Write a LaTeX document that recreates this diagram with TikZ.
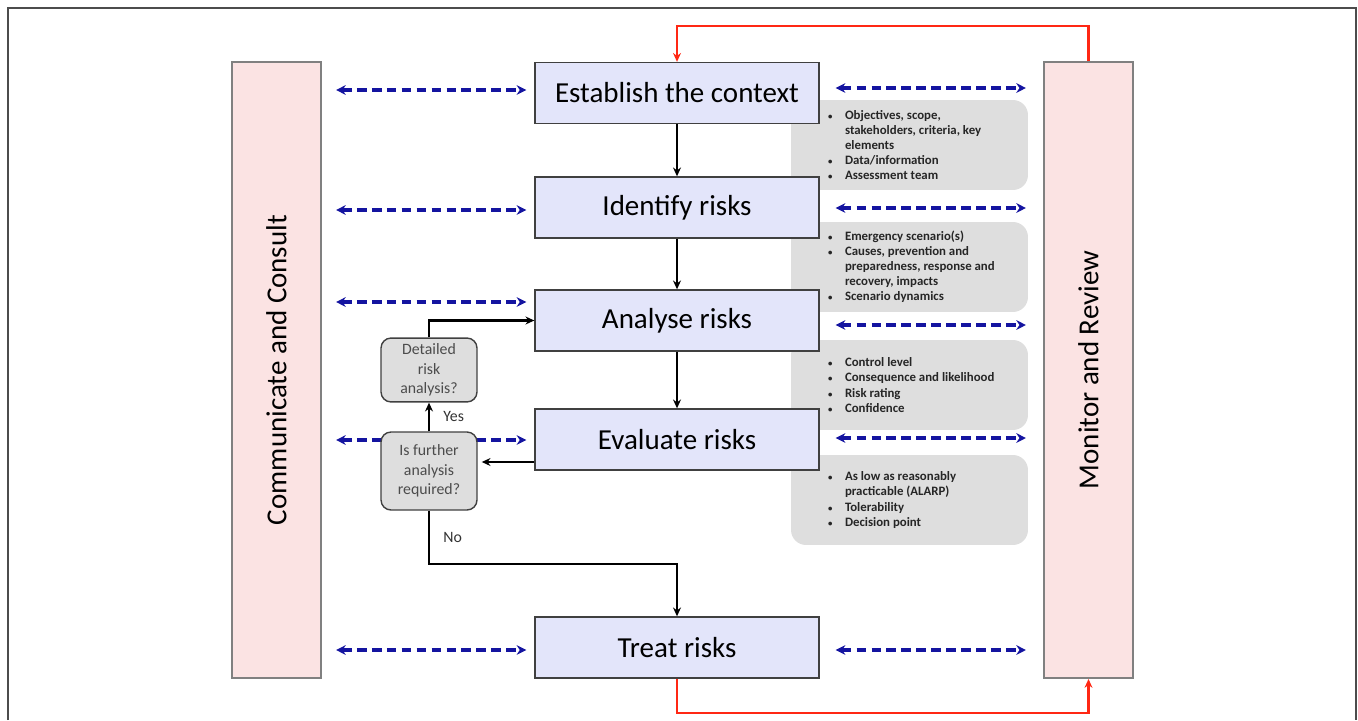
\documentclass[tikz,border=0pt]{standalone}
\usepackage{fontspec}
\setmainfont{Carlito}
\usetikzlibrary{positioning,arrows.meta}

\definecolor{stepblue}{RGB}{227,229,250}
\definecolor{sidepink}{RGB}{251,227,227}
\definecolor{infogray}{RGB}{222,222,222}
\definecolor{dashblue}{RGB}{20,20,160}
\definecolor{loopred}{RGB}{255,40,20}

\tikzset{
  stepbox/.style={draw=black!75, line width=0.8pt, fill=stepblue, minimum width=5.68cm, minimum height=1.22cm, font=\fontsize{16.5}{19}\selectfont},
  sidebox/.style={draw=black!50, line width=1.2pt, fill=sidepink, minimum width=1.78cm, minimum height=12.32cm},
  sidelabel/.style={rotate=90, font=\fontsize{16.5}{19}\selectfont},
  infobox/.style={fill=infogray, rounded corners=0.3cm, minimum width=4.74cm, minimum height=1.8cm},
  infotext/.style={anchor=west, font=\fontsize{7.3}{8.6}\selectfont\bfseries, align=left, inner sep=0pt, text=black!85},
  askbox/.style={draw=black!75, line width=0.8pt, fill=infogray, rounded corners=0.2cm, minimum width=1.92cm, align=center, text=black!70, font=\fontsize{9}{11}\selectfont},
  answer/.style={font=\fontsize{9}{10}\selectfont, text=black!80, anchor=west},
  flow/.style={-{Stealth[length=5pt,width=4.5pt]}, line width=1.2pt},
  talk/.style={{Stealth[length=5.5pt,width=5.5pt]}-{Stealth[length=5.5pt,width=5.5pt]}, dashblue, line width=1.9pt, dash pattern=on 5.5pt off 3pt},
  review/.style={-{Stealth[length=5pt,width=4.5pt]}, loopred, line width=1.2pt},
}
\newcommand{\bul}{\makebox[0.38cm][l]{\hspace*{0.04cm}{\fontsize{5}{5}\selectfont\textbullet}}}
\newcommand{\cont}{\hspace*{0.38cm}}

\begin{document}
\begin{tikzpicture}[x=0.02cm, y=-0.02cm]
    \useasboundingbox (0,0) rectangle (1358,720);
    \draw[gray!60!black, line width=1pt] (8,720) -- (8,8) -- (1356,8) -- (1356,720);

    % Define side boxes
    \node[sidebox] (consult) at (276.5,370) {};
    \node[sidelabel] at (consult) {Communicate and Consult};
    \node[sidebox] (monitor) at (1088.5,370) {};
    \node[sidelabel] at (monitor) {Monitor and Review};

    % Define notes
    \node[infobox] (note1) at (909.5,145) {};
    \node[infobox] (note2) at (909.5,267) {};
    \node[infobox] (note3) at (909.5,385) {};
    \node[infobox] (note4) at (909.5,500) {};
    \node[infotext, right=0.7cm of note1.west] {\bul Objectives, scope,\\ \cont stakeholders, criteria, key\\ \cont elements\\ \bul Data/information\\ \bul Assessment team};
    \node[infotext, right=0.7cm of note2.west] {\bul Emergency scenario(s)\\ \bul Causes, prevention and\\ \cont preparedness, response and\\ \cont recovery, impacts\\ \bul Scenario dynamics};
    \node[infotext, right=0.7cm of note3.west] {\bul Control level\\ \bul Consequence and likelihood\\ \bul Risk rating\\ \bul Confidence};
    \node[infotext, right=0.7cm of note4.west] {\bul As low as reasonably\\ \cont practicable (ALARP)\\ \bul Tolerability\\ \bul Decision point};

    % Define steps
    \node[stepbox] (context) at (677,93) {Establish the context};
    \node[stepbox] (identify) at (677,207.5) {Identify risks};
    \node[stepbox] (analyse) at (677,320.5) {Analyse risks};
    \node[stepbox] (evaluate) at (677,439.5) {Evaluate risks};
    \node[stepbox] (treat) at (677,647.5) {Treat risks};

    % Draw dashed arrows
    \foreach \s/\l/\r in {context/0.06/0.1, identify/-0.05/-0.01, analyse/0.37/-0.09, evaluate/-0.01/0.03, treat/-0.05/-0.05} {
        \coordinate (lin) at ([yshift=\l cm]\s.west);
        \coordinate (rin) at ([yshift=\r cm]\s.east);
        \draw[talk, shorten <=0.28cm, shorten >=0.16cm] (lin -| consult.east) -- (lin);
        \draw[talk, shorten <=0.32cm, shorten >=0.34cm] (rin) -- (rin -| monitor.west);
    }

    % Define questions
    \node[askbox, minimum height=1.2cm] (detailed) at (429,370) {Detailed\\ risk\\ analysis?};
    \node[askbox, minimum height=1.56cm] (further) at (429,471) {Is further\\ analysis\\ required?};

    % Draw arrows
    \draw[flow] (context) -- (identify);
    \draw[flow] (identify) -- (analyse);
    \draw[flow] (analyse) -- (evaluate);
    \coordinate (evalout) at ([yshift=-0.45cm]evaluate.west);
    \draw[flow, shorten >=0.08cm] (evalout) -- (evalout -| further.east);
    \draw[flow] (further.north) -- (detailed.south) node[answer, midway, right=0.15cm] {Yes};
    \draw[flow] (detailed.north) |- (analyse.west);
    \draw[flow] (further.south) -- ++(0,53) node[answer, midway, right=0.15cm] {No} -| (treat.north);
    \draw[review] (monitor.north) -- ++(0,-35) -| (context.north);
    \draw[review] (treat.south) -- ++(0,34) -| (monitor.south);
\end{tikzpicture}
\end{document}
